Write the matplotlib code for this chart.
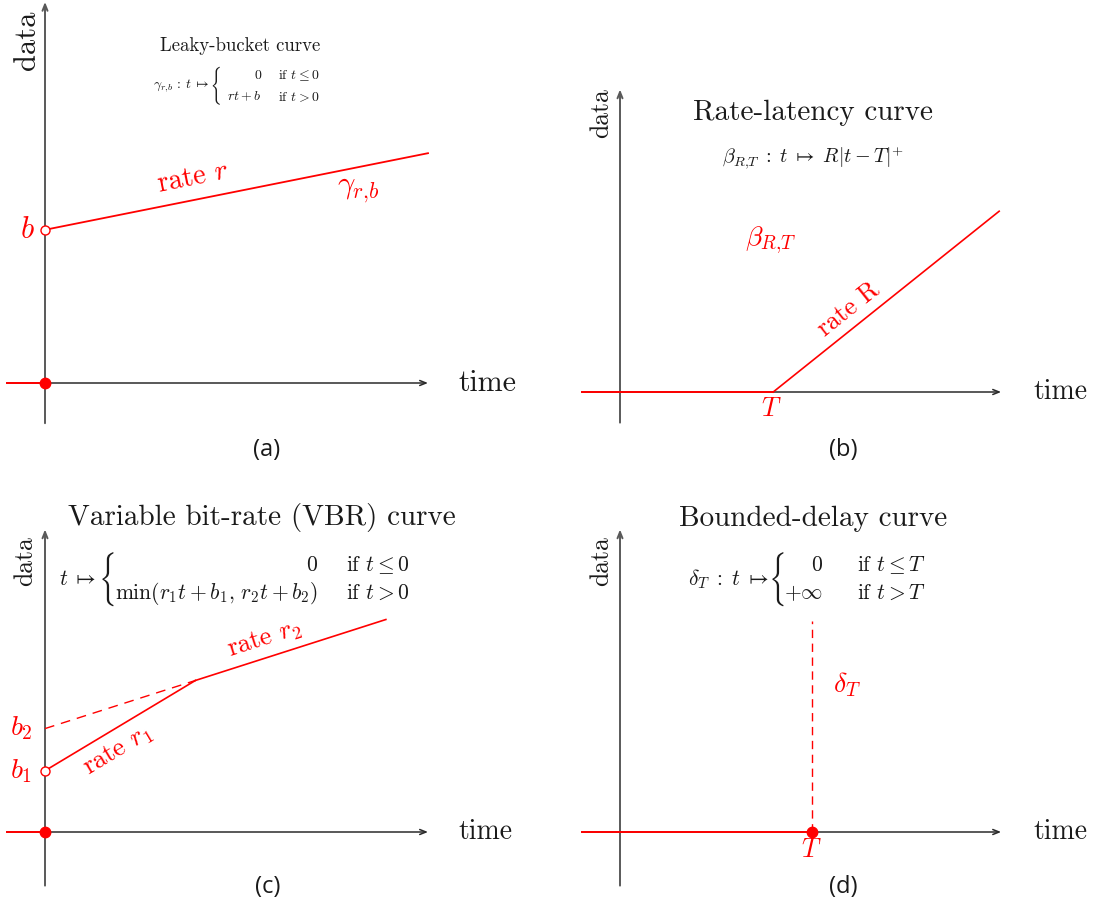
import numpy as np
import matplotlib
matplotlib.use("Agg")
import matplotlib.pyplot as plt
import matplotlib.transforms as mtransforms
from matplotlib.textpath import TextPath
from matplotlib.patches import PathPatch

plt.rcParams["mathtext.fontset"] = "cm"
plt.rcParams["font.family"] = "cmr10"
plt.rcParams["axes.formatter.use_mathtext"] = True

# ---- curve parameters ----
# (a) leaky bucket
lb_rate = 0.2
lb_burst = 4.0
lb_t_end = 10.0
# (b) rate-latency
rl_rate = 0.8
rl_latency = 4.0
rl_t_end = 9.9
# (c) variable bit-rate
vbr_r1, vbr_b1 = 0.6, 1.6
vbr_r2, vbr_b2 = 0.32, 2.7
vbr_t_end = 8.9
# (d) bounded delay
bd_delay = 5.0
bd_top = 5.5

panel_tags = ["(a)", "(b)", "(c)", "(d)"]
titles = ["Leaky-bucket curve", "Rate-latency curve",
          "Variable bit-rate (VBR) curve", "Bounded-delay curve"]

RED = "#ff0000"
AXC = "#2b2b2b"
YAXC = "#595959"
INK = "#1a1a1a"
W, H = 1096, 909
S = 38.3  # pixels per unit

fig = plt.figure(figsize=(W / 100, H / 100), dpi=100)
fig.patch.set_facecolor("white")


def panel(box, origin):
    x0, y0, x1, y1 = box
    ox, oy = origin
    ax = fig.add_axes([x0 / W, 1 - y1 / H, (x1 - x0) / W, (y1 - y0) / H])
    ax.set_xlim((x0 - ox) / S, (x1 - ox) / S)
    ax.set_ylim((oy - y1) / S, (oy - y0) / S)
    ax.axis("off")
    return ax


def frame(ax, xmin, xmax, ymin, ymax):
    style = "->,head_length=0.45,head_width=0.18"
    ax.annotate("", xy=(xmax, 0), xytext=(xmin, 0), zorder=1,
                arrowprops=dict(arrowstyle=style, color=AXC, lw=1.1,
                                shrinkA=0, shrinkB=0))
    ax.annotate("", xy=(0, ymax), xytext=(0, ymin), zorder=1,
                arrowprops=dict(arrowstyle=style, color=YAXC, lw=1.4,
                                shrinkA=0, shrinkB=0))


_brace_path = TextPath((0, 0), r"$\{$", size=10)


def brace(ax, x, y_mid, width_px, height_px):
    """Tall thin left brace whose left edge sits at data point (x, y_mid)."""
    ext = _brace_path.get_extents()
    px, py = ax.transData.transform((x, y_mid))
    tr = (mtransforms.Affine2D()
          .translate(-ext.x0, -(ext.y0 + ext.y1) / 2)
          .scale(width_px / ext.width, height_px / ext.height)
          .translate(px, py))
    fig.add_artist(PathPatch(_brace_path, transform=tr, facecolor=INK, lw=0))


def label(ax, x, y, s, size, **kw):
    kw.setdefault("ha", "center")
    kw.setdefault("va", "center")
    kw.setdefault("color", INK)
    return ax.text(x, y, s, fontsize=size, **kw)


# ---------- (a) ----------
ax = panel((0, 0, 548, 470), (45, 383))
frame(ax, -1.0, 10.0, -1.05, 9.95)
t = np.array([0.0, lb_t_end])
ax.plot([-1.0, 0.0], [0, 0], color=RED, lw=1.4, zorder=3)
ax.plot(t, lb_burst + lb_rate * t, color=RED, lw=1.3, zorder=3)
ax.plot([0], [0], "o", color=RED, ms=7.5, zorder=5)
ax.plot([0], [lb_burst], "o", mfc="white", mec=RED, mew=1.0, ms=6.5, zorder=5)
label(ax, -0.47, lb_burst, r"$b$", 22, color=RED)
label(ax, 11.55, 0, "time", 21.5)
label(ax, -0.45, 8.95, "data", 22, rotation=90)
ang = np.degrees(np.arctan(lb_rate))
label(ax, 3.86, lb_burst + lb_rate * 3.86 + 0.58, r"rate $r$", 20.5, color=RED,
      rotation=ang, rotation_mode="anchor")
label(ax, 8.17, lb_burst + lb_rate * 8.17 - 0.62, r"$\gamma_{r{,}b}$", 22, color=RED)
label(ax, 5.09, 8.8, titles[0], 13.5)
# formula
label(ax, 4.3, 7.76, r"$\gamma_{r{,}b}\,:\,t\;\mapsto$", 10, ha="right")
brace(ax, 4.38, 7.76, 7, 38)
label(ax, 5.67, 8.04, r"$0$", 10, ha="right")
label(ax, 5.67, 7.47, r"$rt+b$", 10, ha="right")
label(ax, 6.08, 8.04, r"if $t\leq 0$", 10, ha="left")
label(ax, 6.08, 7.47, r"if $t>0$", 10, ha="left")

# ---------- (b) ----------
ax = panel((548, 0, 1096, 470), (620, 392))
frame(ax, -1.0, 9.95, -0.8, 7.9)
ax.plot([-1.0, rl_latency], [0, 0], color=RED, lw=1.4, zorder=3)
tb = np.array([rl_latency, rl_t_end])
ax.plot(tb, rl_rate * (tb - rl_latency), color=RED, lw=1.2, zorder=3)
label(ax, 5.04, 7.28, titles[1], 21)
label(ax, 5.04, 6.11, r"$\beta_{R{,}T}\;:\;t\;\mapsto\;R|t-T|^{+}$", 14.5)
label(ax, -0.5, 7.28, "data", 18.5, rotation=90)
label(ax, 11.5, 0, "time", 20)
label(ax, 3.94, 3.97, r"$\beta_{R{,}T}$", 20, color=RED)
angb = np.degrees(np.arctan(rl_rate))
xr = 5.95
label(ax, xr, rl_rate * (xr - rl_latency) + 0.62, "rate R", 18.5, color=RED,
      rotation=angb, rotation_mode="anchor")
label(ax, rl_latency - 0.05, -0.45, r"$T$", 19, color=RED)

# ---------- (c) ----------
ax = panel((0, 470, 548, 909), (45, 832))
frame(ax, -1.0, 10.0, -1.4, 7.9)
ax.plot([-1.0, 0.0], [0, 0], color=RED, lw=1.4, zorder=3)
tk = (vbr_b2 - vbr_b1) / (vbr_r1 - vbr_r2)
tc1 = np.array([0.0, tk])
tc2 = np.array([tk, vbr_t_end])
ax.plot(tc1, vbr_r1 * tc1 + vbr_b1, color=RED, lw=1.2, zorder=3)
ax.plot(tc2, vbr_r2 * tc2 + vbr_b2, color=RED, lw=1.2, zorder=3)
ax.plot(tc1, vbr_r2 * tc1 + vbr_b2, color=RED, lw=1.0, dashes=(7, 5), zorder=3)
ax.plot([0], [0], "o", color=RED, ms=7.5, zorder=5)
ax.plot([0], [vbr_b1], "o", mfc="white", mec=RED, mew=1.0, ms=6.5, zorder=5)
label(ax, -0.62, vbr_b1, r"$b_1$", 20, color=RED)
label(ax, -0.62, vbr_b2, r"$b_2$", 20, color=RED)
label(ax, 5.67, 8.22, titles[2], 21)
label(ax, -0.52, 7.06, "data", 18.5, rotation=90)
label(ax, 11.5, 0, "time", 20)
a1 = np.degrees(np.arctan(vbr_r1))
a2 = np.degrees(np.arctan(vbr_r2))
x1 = 1.9
label(ax, x1, vbr_r1 * x1 + vbr_b1 - 0.62, r"rate $r_1$", 19, color=RED,
      rotation=a1, rotation_mode="anchor")
x2 = 5.74
label(ax, x2, vbr_r2 * x2 + vbr_b2 + 0.5, r"rate $r_2$", 19, color=RED,
      rotation=a2, rotation_mode="anchor")
label(ax, 1.33, 6.6, r"$t\;\mapsto$", 15.5, ha="right")
brace(ax, 1.5, 6.6, 11, 54)
label(ax, 7.13, 6.97, r"$0$", 15.5, ha="right")
label(ax, 7.13, 6.24, r"$\min(r_1t+b_1,\,r_2t+b_2)$", 15.5, ha="right")
label(ax, 7.86, 6.97, r"if $t\leq 0$", 15.5, ha="left")
label(ax, 7.86, 6.24, r"if $t>0$", 15.5, ha="left")

# ---------- (d) ----------
ax = panel((548, 470, 1096, 909), (620, 832))
frame(ax, -1.0, 9.95, -1.4, 7.9)
ax.plot([-1.0, bd_delay], [0, 0], color=RED, lw=1.4, zorder=3)
ax.plot([bd_delay, bd_delay], [0, bd_top], color=RED, lw=1.0, dashes=(6, 4), zorder=3)
ax.plot([bd_delay], [0], "o", color=RED, ms=7.5, zorder=5)
label(ax, 5.04, 8.17, titles[3], 21)
label(ax, -0.5, 7.06, "data", 18.5, rotation=90)
label(ax, 11.5, 0, "time", 20)
label(ax, 5.93, 3.84, r"$\delta_T$", 20, color=RED)
label(ax, bd_delay, -0.47, r"$T$", 19, color=RED)
label(ax, 3.9, 6.6, r"$\delta_T\;:\;t\;\mapsto$", 15.5, ha="right")
brace(ax, 3.98, 6.6, 11, 54)
label(ax, 5.3, 6.97, r"$0$", 15.5, ha="right")
label(ax, 5.3, 6.24, r"$+\infty$", 15.5, ha="right")
label(ax, 6.2, 6.97, r"if $t\leq T$", 15.5, ha="left")
label(ax, 6.2, 6.24, r"if $t>T$", 15.5, ha="left")

# sub-figure tags
for tag, (px, py) in zip(panel_tags, [(267, 450), (843, 450), (268, 887), (843, 887)]):
    fig.text(px / W, 1 - py / H, tag, fontsize=17, family="Open Sans",
             ha="center", va="center", color=INK)

fig.savefig("out.png", dpi=100, facecolor="white")
